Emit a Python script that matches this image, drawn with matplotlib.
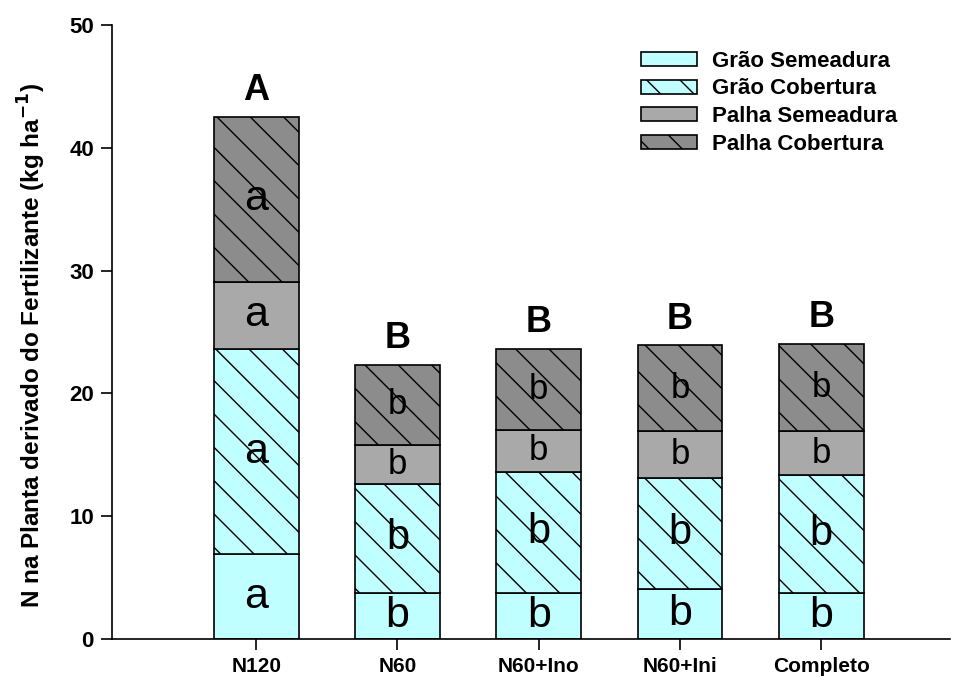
import numpy as np
import matplotlib
matplotlib.use("Agg")
import matplotlib.pyplot as plt

plt.rcParams['font.family'] = ['Liberation Sans', 'DejaVu Sans']
plt.rcParams['hatch.linewidth'] = 1.0

# treatments and stacked components (kg ha-1)
treatments = ["N120", "N60", "N60+Ino", "N60+Ini", "Completo"]
grao_semeadura = [6.9, 3.77, 3.77, 4.1, 3.77]
grao_cobertura = [16.7, 8.85, 9.85, 9.0, 9.6]
palha_semeadura = [5.5, 3.2, 3.4, 3.8, 3.55]
palha_cobertura = [13.4, 6.5, 6.6, 7.0, 7.1]
series_names = ["Grão Semeadura", "Grão Cobertura", "Palha Semeadura", "Palha Cobertura"]

# letters (Tukey groups)
seg_letters = [
    ["a", "b", "b", "b", "b"],
    ["a", "b", "b", "b", "b"],
    ["a", "b", "b", "b", "b"],
    ["a", "b", "b", "b", "b"],
]
total_letters = ["A", "B", "B", "B", "B"]

colors = ["#C0FFFF", "#C0FFFF", "#A9A9A9", "#8C8C8C"]
hatches = [None, "\\", None, "\\"]
seg_sizes = [31, 30, 25, 25]

fig = plt.figure(figsize=(9.54, 6.86), dpi=100)
ax = fig.add_axes([0.1174, 0.0685, 0.8784, 0.8951])

x = np.arange(len(treatments))
width = 0.6
bottom = np.zeros(len(treatments))
layers = [grao_semeadura, grao_cobertura, palha_semeadura, palha_cobertura]
for i, vals in enumerate(layers):
    vals = np.array(vals)
    ax.bar(x, vals, width, bottom=bottom, color=colors[i], edgecolor="black",
           linewidth=1.2, hatch=hatches[i], label=series_names[i], zorder=2)
    for j in range(len(x)):
        size = 31 if j == 0 else seg_sizes[i]
        ax.text(x[j], bottom[j] + vals[j] / 2, seg_letters[i][j], ha="center",
                va="center", fontsize=size, zorder=3)
    bottom += vals

for j in range(len(x)):
    ax.text(x[j], bottom[j] + 0.7, total_letters[j], ha="center", va="bottom",
            fontsize=26, fontweight="bold")

ax.set_xlim(-1.02, 4.91)
ax.set_ylim(0, 50)
ax.set_xticks(x)
ax.set_xticklabels(treatments, fontsize=15, fontweight="bold")
ax.set_yticks([0, 10, 20, 30, 40, 50])
ax.set_yticklabels(["0", "10", "20", "30", "40", "50"], fontsize=16, fontweight="bold")
ax.tick_params(axis="both", direction="out", length=8, width=1.2)
ax.tick_params(axis="x", pad=5)
ax.tick_params(axis="y", pad=5)
ax.spines["top"].set_visible(False)
ax.spines["right"].set_visible(False)
ax.spines["left"].set_linewidth(1.2)
ax.spines["bottom"].set_linewidth(1.2)

ax.set_ylabel("N na Planta derivado do Fertilizante (kg ha$^{\\mathbf{-1}}$)",
              fontsize=17.5, fontweight="bold")
ax.yaxis.set_label_coords(-0.076, 0.478)

leg = ax.legend(loc="upper left", bbox_to_anchor=(0.61, 0.987), frameon=False,
                prop={"size": 16, "weight": "bold"}, handlelength=2.5,
                handleheight=0.6, labelspacing=0.3, handletextpad=0.7,
                borderpad=0.3)

fig.savefig("out.png", dpi=100)
